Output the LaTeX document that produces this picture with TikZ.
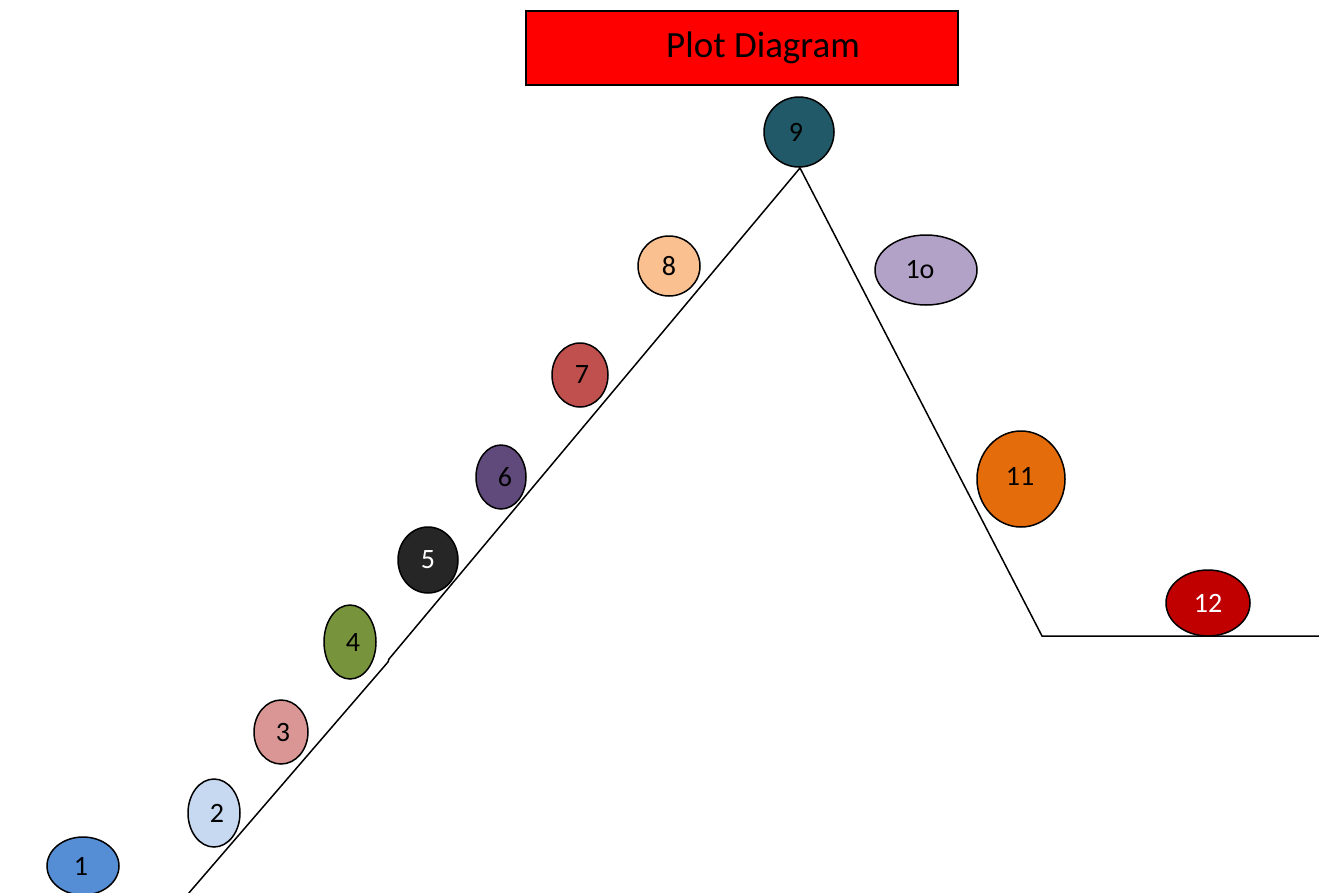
\documentclass[tikz,border=0pt]{standalone}
\usepackage{fontspec}
\setmainfont{Carlito}
\usetikzlibrary{shapes.geometric}
\definecolor{c1}{HTML}{558ED5}
\definecolor{c2}{HTML}{C6D9F1}
\definecolor{c3}{HTML}{D99694}
\definecolor{c4}{HTML}{77933C}
\definecolor{c5}{HTML}{262626}
\definecolor{c6}{HTML}{604A7B}
\definecolor{c7}{HTML}{C0504D}
\definecolor{c8}{HTML}{FAC090}
\definecolor{c9}{HTML}{215968}
\definecolor{c10}{HTML}{B3A2C7}
\definecolor{c11}{HTML}{E46C0A}
\definecolor{c12}{HTML}{C00000}
\newcommand{\shiftlab}[3]{\hspace*{#1pt}\raisebox{#2pt}{#3}}
\tikzset{
  bead/.style={ellipse, draw=black, line width=1.5pt, inner sep=0pt,
    font=\fontsize{28}{32}\selectfont},
  plotline/.style={draw=black, line width=1.5pt},
}
\begin{document}
\begin{tikzpicture}[x=1pt,y=-1pt]
\useasboundingbox (0,0) rectangle (1319,892);
\begin{scope}
\clip (0,0) rectangle (1319,892);
% plot lines
\coordinate (s) at (188,894);
\coordinate (k1) at (388,662);
\coordinate (k2) at (389,659);
\coordinate (peak) at (800,168);
\coordinate (low) at (1042,636);
\coordinate (e) at (1319,636);
\draw[plotline] (s) -- (k1) -- (k2) -- (peak) -- (low) -- (e);
% title
\node[draw=black, line width=1.5pt, fill=red, minimum width=432pt, minimum height=74pt,
  font=\fontsize{37}{42}\selectfont] (title) at (742,48) {\hspace*{42pt}Plot Diagram};
% beads
\node[bead, fill=c1, minimum width=72pt, minimum height=58pt] (n1) at (83,866) {\shiftlab{-4}{-9}{1}};
\node[bead, fill=c2, minimum width=52pt, minimum height=68pt] (n2) at (214,813) {\shiftlab{6}{-2}{2}};
\node[bead, fill=c3, minimum width=54pt, minimum height=64pt] (n3) at (281,732) {\shiftlab{4}{-5}{3}};
\node[bead, fill=c4, minimum width=52pt, minimum height=74pt] (n4) at (350,642) {\shiftlab{6}{-1}{4}};
\node[bead, fill=c5, minimum width=60pt, minimum height=66pt, text=white] (n5) at (428,560) {\shiftlab{0}{-5}{5}};
\node[bead, fill=c6, minimum width=50pt, minimum height=64pt] (n6) at (501,477) {\shiftlab{8}{-4}{6}};
\node[bead, fill=c7, minimum width=56pt, minimum height=64pt] (n7) at (580,375) {\shiftlab{4}{-5}{7}};
\node[bead, fill=c8, minimum width=62pt, minimum height=60pt] (n8) at (669,266) {\shiftlab{0}{-5}{8}};
\node[bead, fill=c9, minimum width=70pt, minimum height=70pt] (n9) at (799,132) {\shiftlab{-6}{-2}{9}};
\node[bead, fill=c10, minimum width=102pt, minimum height=70pt] (n10) at (926,270) {\shiftlab{-12}{-3}{1o}};
\node[bead, fill=c11, minimum width=88pt, minimum height=96pt] (n11) at (1021,479) {\shiftlab{-2}{6}{11}};
\node[bead, fill=c12, minimum width=84pt, minimum height=66pt, text=white] (n12) at (1208,603) {\shiftlab{0}{-2}{12}};
\end{scope}
\end{tikzpicture}
\end{document}
